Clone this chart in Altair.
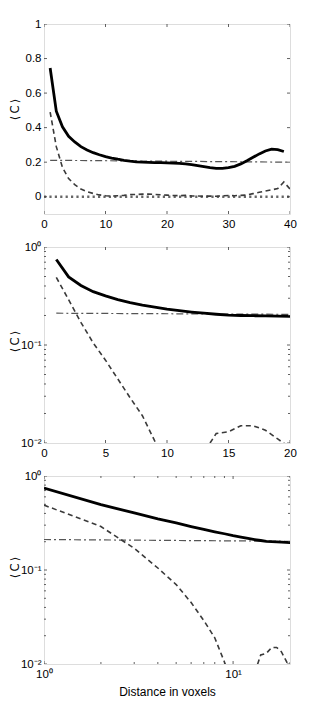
import altair as alt
import pandas as pd

# ---------------- data ----------------
x_solid = list(range(1, 40))
solid = [0.745, 0.495, 0.405, 0.35, 0.317, 0.29, 0.27, 0.255, 0.243, 0.232,
         0.224, 0.217, 0.211, 0.206, 0.202, 0.200, 0.199, 0.198, 0.197, 0.196,
         0.195, 0.193, 0.190, 0.186, 0.180, 0.174, 0.168, 0.164, 0.164, 0.168,
         0.176, 0.190, 0.208, 0.228, 0.248, 0.265, 0.276, 0.273, 0.262]

x_dashed = list(range(1, 41))
dashed = [0.49, 0.29, 0.17, 0.105, 0.07, 0.045, 0.029, 0.019, 0.0105, 0.006,
          0.004, 0.006, 0.008, 0.0125, 0.013, 0.015, 0.015, 0.0135, 0.011, 0.009,
          0.007, 0.006, 0.008, 0.005, 0.004, 0.003, 0.004, 0.003, 0.005, 0.007,
          0.006, 0.008, 0.010, 0.018, 0.026, 0.033, 0.040, 0.047, 0.085, 0.045]

x_dashdot = [1, 40]
dashdot = [0.211, 0.200]

x_dotted = [0, 40]
dotted = [0.0, 0.0]

# tick values
p1_xticks = [0, 10, 20, 30, 40]
p1_yticks = [0, 0.2, 0.4, 0.6, 0.8, 1.0]
p2_xticks = [0, 5, 10, 15, 20]
log_y_major = [0.01, 0.1, 1.0]
log_y_minor = [0.02, 0.03, 0.04, 0.05, 0.06, 0.07, 0.08, 0.09,
               0.2, 0.3, 0.4, 0.5, 0.6, 0.7, 0.8, 0.9]
log_x_major = [1, 10]
log_x_minor = [2, 3, 4, 5, 6, 7, 8, 9, 20]

W = 246
FONT = "Liberation Sans"
TITLE_FONT = "DejaVu Sans"
FRAME = "#3a3a3a"
Y_TITLE = "\u27e8\u2009C\u2009\u27e9"

df_solid = pd.DataFrame({"x": x_solid, "y": solid})
df_dashed = pd.DataFrame({"x": x_dashed, "y": dashed})
df_dashdot = pd.DataFrame({"x": x_dashdot, "y": dashdot})
df_dotted = pd.DataFrame({"x": x_dotted, "y": dotted})

LOG_LABELS = ("datum.value >= 5 ? '10\u00b9' : datum.value >= 0.5 ? '10\u2070' : "
              "datum.value >= 0.05 ? '10\u207b\u00b9' : '10\u207b\u00b2'")
PLAIN_LABELS = "'' + datum.value"


def make_panel(height, xscale, yscale, xaxis, yaxis, xmaj, xmin, ymaj, ymin, with_dotted):
    X = lambda f: alt.X(f, type="quantitative", scale=xscale, axis=xaxis)
    Y = lambda f: alt.Y(f, type="quantitative", scale=yscale, axis=yaxis)
    layers = []
    if with_dotted:
        layers.append(alt.Chart(df_dotted).mark_line(
            color="#666666", strokeWidth=2.6, strokeDash=[2.2, 3.2], clip=True
        ).encode(x=X("x"), y=Y("y")))
    layers.append(alt.Chart(df_dashdot).mark_line(
        color="#555555", strokeWidth=1.2, strokeDash=[7, 3, 2, 3], clip=True
    ).encode(x=X("x"), y=Y("y")))
    layers.append(alt.Chart(df_dashed).mark_line(
        color="#3a3a3a", strokeWidth=1.6, strokeDash=[5, 3.5], clip=True
    ).encode(x=X("x"), y=Y("y")))
    layers.append(alt.Chart(df_solid).mark_line(
        color="black", strokeWidth=2.8, clip=True
    ).encode(x=X("x"), y=Y("y")))

    def ticks(vals, length, orient):
        d = pd.DataFrame({"v": vals})
        base = alt.Chart(d).mark_rule(color=FRAME, strokeWidth=0.8, clip=True)
        out = []
        if orient == "y":
            out.append(base.encode(y=Y("v"), x=alt.value(0), x2=alt.value(length)))
            out.append(base.encode(y=Y("v"), x=alt.value(W - length), x2=alt.value(W)))
        else:
            out.append(base.encode(x=X("v"), y=alt.value(height - length), y2=alt.value(height)))
            out.append(base.encode(x=X("v"), y=alt.value(0), y2=alt.value(length)))
        return out

    layers += ticks(xmaj, 3, "x")
    layers += ticks(ymaj, 3, "y")
    if xmin:
        layers += ticks(xmin, 2, "x")
    if ymin:
        layers += ticks(ymin, 2, "y")
    return alt.layer(*layers).properties(width=W, height=height)


def yaxis(values, title_y, label_expr=PLAIN_LABELS):
    kw = dict(values=values, title=Y_TITLE, ticks=False, tickSize=0, domain=False,
              grid=False, labelPadding=3, labelFontSize=11.5, labelFont=FONT,
              labelColor="black", titleFont=TITLE_FONT, titleFontSize=11.5,
              titleFontWeight="normal", titleColor="black", titleX=-29, titleY=title_y,
              titleAngle=270, titleAlign="center", titleBaseline="middle", labelFlush=False,
              labelExpr=label_expr)
    return alt.Axis(**kw)


def xaxis(values, title=None, label_expr=PLAIN_LABELS):
    kw = dict(values=values, ticks=False, tickSize=0, domain=False, grid=False,
              labelPadding=4, labelFontSize=11.5, labelFont=FONT, labelColor="black",
              labelFlush=False, labelExpr=label_expr)
    if title:
        kw.update(title=title, titleFont=FONT, titleFontSize=12, titleFontWeight="normal",
                  titleColor="black", titleY=27, titleBaseline="middle")
    else:
        kw["title"] = ""
    return alt.Axis(**kw)


p1 = make_panel(
    190,
    alt.Scale(domain=[0, 40], nice=False, zero=False),
    alt.Scale(domain=[-0.1, 1], nice=False, zero=False),
    xaxis(p1_xticks),
    yaxis(p1_yticks, 85),
    p1_xticks, None, p1_yticks, None, True,
)

p2 = make_panel(
    196,
    alt.Scale(domain=[0, 20], nice=False, zero=False),
    alt.Scale(type="log", domain=[0.01, 1], nice=False),
    xaxis(p2_xticks),
    yaxis(log_y_major, 94, LOG_LABELS),
    p2_xticks, None, log_y_major, log_y_minor, False,
)

p3 = make_panel(
    188,
    alt.Scale(type="log", domain=[1, 20], nice=False),
    alt.Scale(type="log", domain=[0.01, 1], nice=False),
    xaxis(log_x_major, "Distance in voxels", LOG_LABELS),
    yaxis(log_y_major, 91, LOG_LABELS),
    log_x_major, log_x_minor, log_y_major, log_y_minor, False,
)

chart = alt.vconcat(p1, p2, p3, spacing=33, bounds="flush").properties(
    padding={"left": 0, "top": 9, "right": 5, "bottom": 5}
).configure_view(stroke=FRAME, strokeWidth=1).configure(background="white")

chart.save("out.html", embed_options={"renderer": "svg", "actions": False})
